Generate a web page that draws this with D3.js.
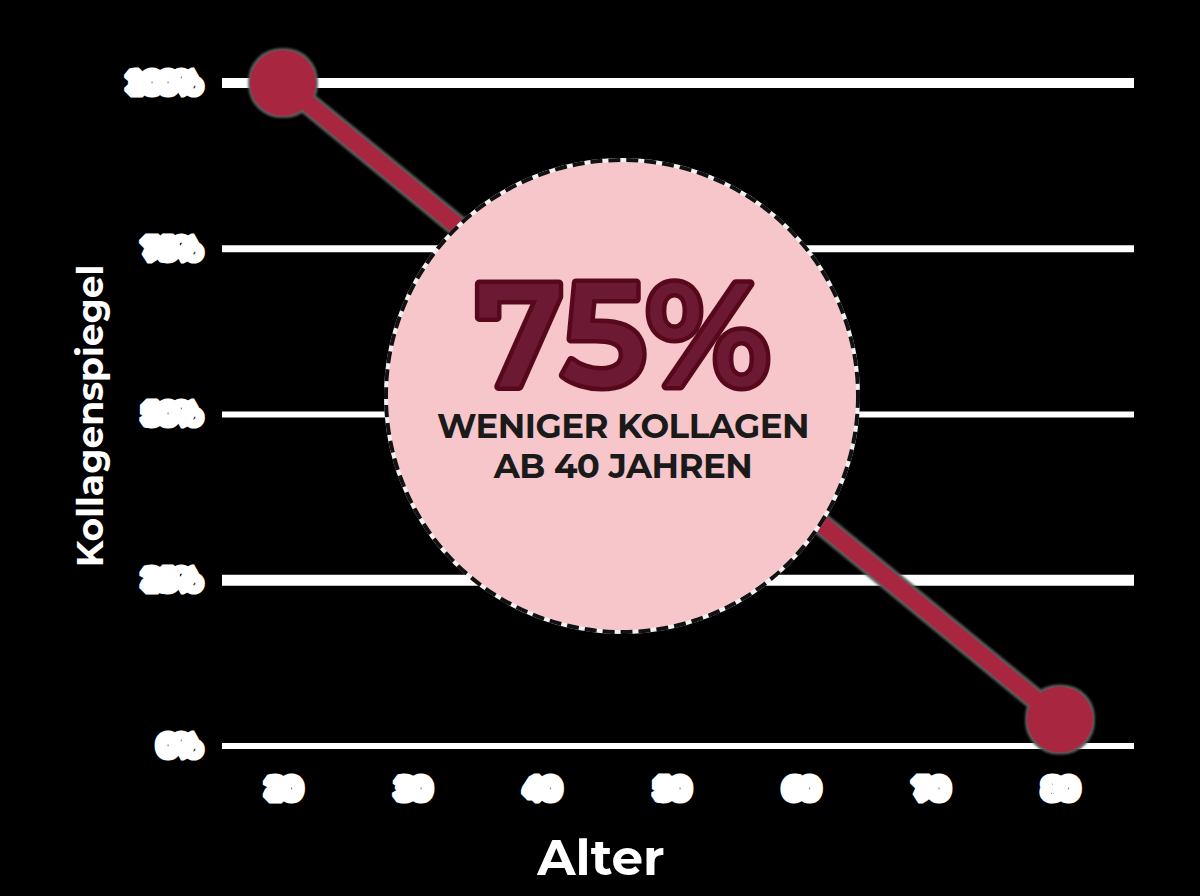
<!DOCTYPE html>
<html>
  <head>
    <meta charset="utf-8">
    <title>Kollagenspiegel nach Alter</title>
    <style>
      body { margin: 0; background: #000; }
      .tick text { font-family: "DejaVu Sans", sans-serif; font-weight: bold; }
    </style>
  </head>
  <body>
    <script src="https://d3js.org/d3.v7.min.js"></script>
    <script type="text/javascript">

        // data
        var ages = [20, 80];
        var levels = [100, 4];
        var ageTicks = [20, 30, 40, 50, 60, 70, 80];
        var levelTicks = [0, 25, 50, 75, 100];
        var gridWidths = [6, 11, 6, 7, 10];   // the lines are not all drawn alike

        var calloutValue = "75%";
        var calloutLines = ["WENIGER KOLLAGEN", "AB 40 JAHREN"];

        var w = 1200;
        var h = 896;
        var gridLeft = 222;
        var gridRight = 1134;

        var svg = d3.select("body")
          .append("svg")
          .attr("width", w)
          .attr("height", h)
          .style("background", "#000");

        var xScale = d3.scaleLinear()
                       .domain([20, 80])
                       .range([283, 1060]);

        var yScale = d3.scaleLinear()
                       .domain([0, 100])
                       .range([746, 83]);

        // glow round the red line and dots
        var defs = svg.append("defs");
        var glow = defs.append("filter")
          .attr("id", "glow")
          .attr("x", "-20%").attr("y", "-20%")
          .attr("width", "140%").attr("height", "140%");
        glow.append("feMorphology")
          .attr("in", "SourceAlpha").attr("operator", "dilate").attr("radius", 1.5)
          .attr("result", "fat");
        glow.append("feGaussianBlur")
          .attr("in", "fat").attr("stdDeviation", 1.2).attr("result", "blur");
        glow.append("feFlood").attr("flood-color", "#5a5a5a");
        glow.append("feComposite").attr("in2", "blur").attr("operator", "in").attr("result", "halo");
        var merge = glow.append("feMerge");
        merge.append("feMergeNode").attr("in", "halo");
        merge.append("feMergeNode").attr("in", "SourceGraphic");

        // horizontal grid lines
        svg.append("g")
          .selectAll("line")
          .data(levelTicks)
          .enter()
          .append("line")
          .attr("x1", gridLeft)
          .attr("x2", gridRight)
          .attr("y1", function(d) { return yScale(d); })
          .attr("y2", function(d) { return yScale(d); })
          .attr("stroke", "#fff")
          .attr("stroke-width", function(d, i) { return gridWidths[i]; });

        // blocky tick labels
        var yAxis = d3.axisLeft(yScale)
                      .tickValues(levelTicks)
                      .tickFormat(function(d) { return d + "%"; })
                      .tickSize(0)
                      .tickPadding(23);

        var xAxis = d3.axisBottom(xScale)
                      .tickValues(ageTicks)
                      .tickFormat(d3.format("d"))
                      .tickSize(0)
                      .tickPadding(35);

        [svg.append("g").attr("transform", "translate(" + gridLeft + ",0)").call(yAxis),
         svg.append("g").attr("transform", "translate(0," + yScale(0) + ")").call(xAxis)]
          .forEach(function(g) {
            g.select(".domain").remove();
            g.selectAll("text")
              .attr("fill", "#fff")
              .attr("stroke", "#fff")
              .attr("stroke-width", 13)
              .attr("stroke-linejoin", "bevel")
              .style("font-size", "23px");
          });

        // the red line with its dots
        var points = ages.map(function(a, i) { return [a, levels[i]]; });

        var line = d3.line()
          .x(function(d) { return xScale(d[0]); })
          .y(function(d) { return yScale(d[1]); });

        var red = svg.append("g").attr("filter", "url(#glow)");

        red.append("path")
          .datum(points)
          .attr("d", line)
          .attr("fill", "none")
          .attr("stroke", "#a8283f")
          .attr("stroke-width", 17);

        red.selectAll("circle")
          .data(points)
          .enter()
          .append("circle")
          .attr("cx", function(d) { return xScale(d[0]); })
          .attr("cy", function(d) { return yScale(d[1]); })
          .attr("r", 33)
          .attr("fill", "#a8283f");

        // pink callout
        var cx = 622;
        var cy = 396;
        var callout = svg.append("g");

        callout.append("circle")
          .attr("cx", cx).attr("cy", cy).attr("r", 236)
          .attr("fill", "#f6c6ca")
          .attr("stroke", "#f4f0f0")
          .attr("stroke-width", 4);

        callout.append("circle")
          .attr("cx", cx).attr("cy", cy).attr("r", 236)
          .attr("fill", "none")
          .attr("stroke", "#111")
          .attr("stroke-width", 4)
          .attr("stroke-dasharray", "12 6");

        callout.append("text")
          .attr("x", cx + 1)
          .attr("y", 386)
          .attr("text-anchor", "middle")
          .style("font-family", "Montserrat, 'Open Sans', sans-serif")
          .style("font-weight", "600")
          .style("font-size", "146px")
          .attr("fill", "#6c1a34")
          .attr("stroke", "#58081d")
          .attr("stroke-width", 9)
          .attr("stroke-linejoin", "round")
          .attr("paint-order", "stroke")
          .text(calloutValue);

        callout.selectAll("text.sub")
          .data(calloutLines)
          .enter()
          .append("text")
          .attr("class", "sub")
          .attr("x", cx + 1)
          .attr("y", function(d, i) { return 438 + i * 40; })
          .attr("text-anchor", "middle")
          .style("font-family", "Montserrat, 'Open Sans', sans-serif")
          .style("font-weight", "bold")
          .style("font-size", "34px")
          .style("letter-spacing", "-0.5px")
          .attr("fill", "#1a1a1a")
          .text(function(d) { return d; });

        // axis titles
        svg.append("text")
           .attr("x", -416)
           .attr("y", 103)
           .attr("text-anchor", "middle")
           .attr("transform", "rotate(-90)")
           .style("font-family", "Montserrat, 'Open Sans', sans-serif")
           .style("font-weight", "bold")
           .style("font-size", "36px")
           .attr("fill", "#fff")
           .text("Kollagenspiegel");

        svg.append("text")
           .attr("x", 601)
           .attr("y", 875)
           .attr("text-anchor", "middle")
           .style("font-family", "Montserrat, 'Open Sans', sans-serif")
           .style("font-weight", "bold")
           .style("font-size", "50px")
           .attr("fill", "#fff")
           .text("Alter");

    </script>
  </body>
</html>
